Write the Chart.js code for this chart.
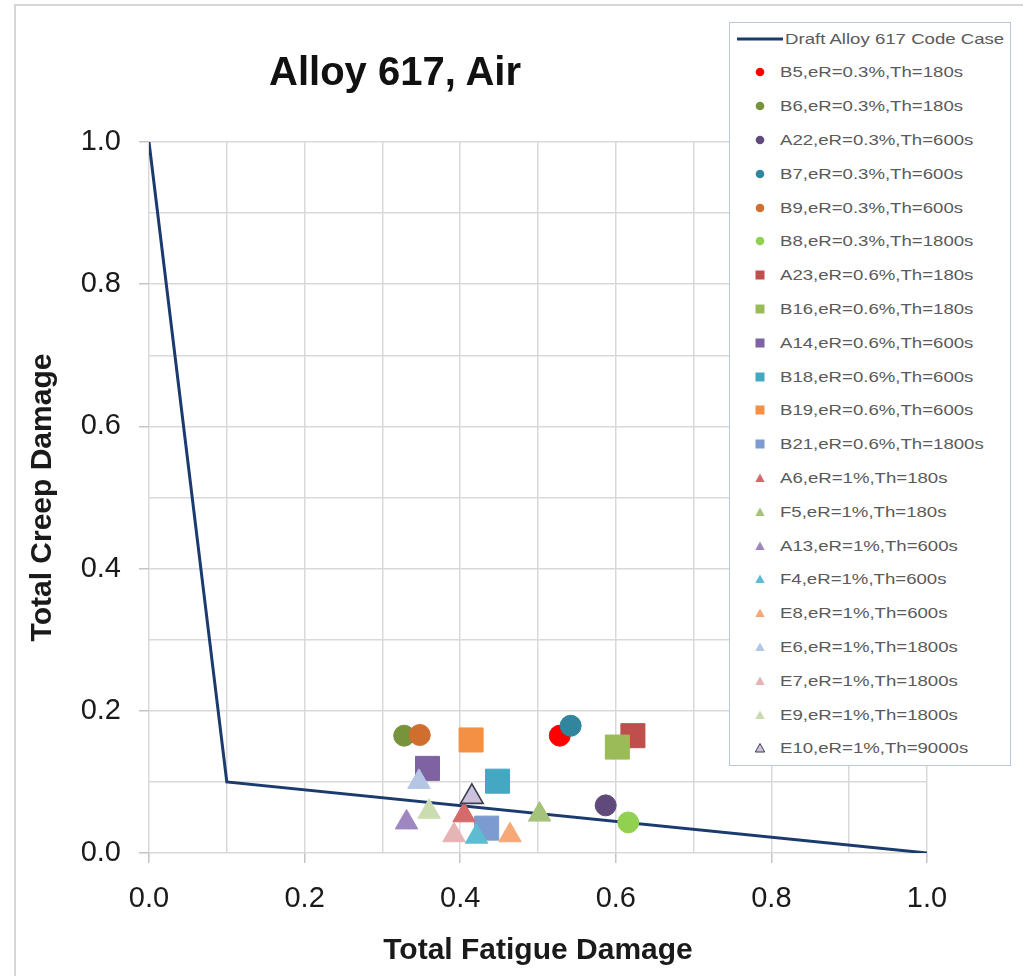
<!DOCTYPE html>
<html>
<head>
<meta charset="utf-8">
<script src="https://cdn.jsdelivr.net/npm/chart.js@4.4.1/dist/chart.umd.min.js"></script>
<style>
html,body{margin:0;padding:0;background:#fff;}
#wrap{position:relative;width:1023px;height:976px;overflow:hidden;font-family:"Liberation Sans",Arial,sans-serif;background:#fff;}
#frame{position:absolute;left:14px;top:4px;width:1200px;height:1200px;border-left:2px solid #d6d6d6;border-top:2px solid #d6d6d6;}
#c{position:absolute;left:0;top:0;}
#title{position:absolute;left:145px;width:500px;top:51px;text-align:center;font-weight:bold;font-size:40px;line-height:40px;color:#111;white-space:nowrap;}
#legend{position:absolute;left:729px;top:22px;width:282px;height:744px;border:1px solid #b9c8e0;background:#fff;box-sizing:border-box;}
.row{position:absolute;left:0;height:20px;width:100%;}
.row svg{position:absolute;left:0;top:0;}
.row span{position:absolute;top:0;line-height:20px;font-size:15px;color:#5a5a5a;transform:scaleX(1.24);transform-origin:0 50%;white-space:nowrap;}
</style>
</head>
<body>
<div id="wrap">
  <div id="frame"></div>
  <canvas id="c" width="1023" height="976"></canvas>
  <div id="title">Alloy 617, Air</div>
  <div id="legend"></div>
</div>
<script>
// ---- data ----
const codeCaseLabel = 'Draft Alloy 617 Code Case';
const codeCaseFatigue = [0.0, 0.1, 1.0];
const codeCaseCreep = [1.0, 0.1, 0.0];

const seriesLabels = [
  'B5,eR=0.3%,Th=180s', 'B6,eR=0.3%,Th=180s', 'A22,eR=0.3%,Th=600s', 'B7,eR=0.3%,Th=600s',
  'B9,eR=0.3%,Th=600s', 'B8,eR=0.3%,Th=1800s', 'A23,eR=0.6%,Th=180s', 'B16,eR=0.6%,Th=180s',
  'A14,eR=0.6%,Th=600s', 'B18,eR=0.6%,Th=600s', 'B19,eR=0.6%,Th=600s', 'B21,eR=0.6%,Th=1800s',
  'A6,eR=1%,Th=180s', 'F5,eR=1%,Th=180s', 'A13,eR=1%,Th=600s', 'F4,eR=1%,Th=600s',
  'E8,eR=1%,Th=600s', 'E6,eR=1%,Th=1800s', 'E7,eR=1%,Th=1800s', 'E9,eR=1%,Th=1800s',
  'E10,eR=1%,Th=9000s'
];
const fatigueDamage = [
  0.528, 0.328, 0.587, 0.542, 0.348, 0.616, 0.622, 0.602, 0.358, 0.448, 0.414, 0.434,
  0.405, 0.502, 0.331, 0.421, 0.464, 0.347, 0.392, 0.360, 0.415
];
const creepDamage = [
  0.165, 0.165, 0.067, 0.179, 0.166, 0.043, 0.165, 0.149, 0.119, 0.101, 0.159, 0.035,
  0.053, 0.054, 0.043, 0.023, 0.025, 0.100, 0.025, 0.058, 0.079
];
const tickLabels = ['0.0', '0.2', '0.4', '0.6', '0.8', '1.0'];

// ---- styles ----
const seriesShapes = [
  'circle','circle','circle','circle','circle','circle',
  'rect','rect','rect','rect','rect','rect',
  'triangle','triangle','triangle','triangle','triangle','triangle','triangle','triangle','triangle'
];
const seriesColors = [
  '#FF0000', '#77933C', '#604A7B', '#31859C', '#CF6E2E', '#92D050',
  '#BE4F4C', '#9BBB59', '#7F62A2', '#44A8C2', '#F39044', '#7B9BD1',
  '#D46A6A', '#A6C37C', '#9E86C1', '#5EBCD2', '#F6A877', '#B5C6E5', '#E6B4B4', '#CBDDB0', '#CDC2DD'
];
const seriesBorders = seriesColors.map((c, i) => i === 20 ? '#3C3C4C' : c);
const shapeRadius = {circle: 10.5, rect: 17, triangle: 13};
const lineColor = '#1B3A6E';

const datasets = [{
  label: codeCaseLabel,
  data: codeCaseFatigue.map((x, i) => ({x: x, y: codeCaseCreep[i]})),
  showLine: true,
  fill: false,
  tension: 0,
  borderColor: lineColor,
  backgroundColor: lineColor,
  borderWidth: 3,
  pointRadius: 0,
  pointHoverRadius: 0,
  order: 200
}];
seriesLabels.forEach((lab, i) => {
  datasets.push({
    label: lab,
    data: [{x: fatigueDamage[i], y: creepDamage[i]}],
    pointStyle: seriesShapes[i],
    pointRadius: shapeRadius[seriesShapes[i]],
    pointHoverRadius: shapeRadius[seriesShapes[i]],
    backgroundColor: seriesColors[i],
    borderColor: seriesBorders[i],
    borderWidth: i === 20 ? 1.6 : 1,
    showLine: false,
    order: 100 - i
  });
});

const isMajor = v => Math.round(v * 10) % 2 === 0;
const labelFor = v => { const k = Math.round(v * 10); return k % 2 === 0 ? tickLabels[k / 2] : ''; };
const FONT = '"Liberation Sans", Arial, sans-serif';

const chart = new Chart(document.getElementById('c'), {
  type: 'scatter',
  data: {datasets: datasets},
  options: {
    responsive: false,
    animation: false,
    layout: {padding: {left: 15, top: 142, right: 96, bottom: 0}},
    plugins: {legend: {display: false}, tooltip: {enabled: false}, title: {display: false}},
    scales: {
      x: {
        type: 'linear', min: 0, max: 1,
        ticks: {stepSize: 0.1, autoSkip: false, maxRotation: 0, padding: 19,
          callback: v => labelFor(v), color: '#1a1a1a', font: {family: FONT, size: 29}},
        grid: {color: '#d9d9d9', lineWidth: 1.5, tickLength: 10,
          tickColor: ctx => (ctx.tick && isMajor(ctx.tick.value)) ? '#c4c4c4' : 'rgba(0,0,0,0)'},
        border: {display: false},
        title: {display: true, text: 'Total Fatigue Damage', color: '#1a1a1a',
          font: {family: FONT, size: 30, weight: 'bold'}, padding: {top: 0, bottom: 7}},
        afterFit: s => { s.height = 123; }
      },
      y: {
        type: 'linear', min: 0, max: 1,
        ticks: {stepSize: 0.1, autoSkip: false, padding: 18,
          callback: v => labelFor(v), color: '#1a1a1a', font: {family: FONT, size: 29}},
        grid: {color: '#d9d9d9', lineWidth: 1.5, tickLength: 10,
          tickColor: ctx => (ctx.tick && isMajor(ctx.tick.value)) ? '#c4c4c4' : 'rgba(0,0,0,0)'},
        border: {display: false},
        title: {display: true, text: 'Total Creep Damage', color: '#1a1a1a',
          font: {family: FONT, size: 30, weight: 'bold'}, padding: {top: 10, bottom: 0}},
        afterFit: s => { s.width = 134; }
      }
    }
  }
});

// ---- HTML legend built from the chart's datasets ----
const legendEl = document.getElementById('legend');
const NS = 'http://www.w3.org/2000/svg';
chart.data.datasets.forEach((ds, i) => {
  const cy = 38.5 + i * 33.8;
  const row = document.createElement('div');
  row.className = 'row';
  row.style.top = (cy - 33) + 'px';
  const svg = document.createElementNS(NS, 'svg');
  svg.setAttribute('width', '60'); svg.setAttribute('height', '20');
  let shape;
  if (i === 0) {
    shape = document.createElementNS(NS, 'line');
    shape.setAttribute('x1', '7'); shape.setAttribute('x2', '53');
    shape.setAttribute('y1', '10'); shape.setAttribute('y2', '10');
    shape.setAttribute('stroke', ds.borderColor); shape.setAttribute('stroke-width', '3');
  } else if (ds.pointStyle === 'circle') {
    shape = document.createElementNS(NS, 'circle');
    shape.setAttribute('cx', '30'); shape.setAttribute('cy', '10'); shape.setAttribute('r', '4.3');
    shape.setAttribute('fill', ds.backgroundColor);
  } else if (ds.pointStyle === 'rect') {
    shape = document.createElementNS(NS, 'rect');
    shape.setAttribute('x', '25.5'); shape.setAttribute('y', '5.5');
    shape.setAttribute('width', '9'); shape.setAttribute('height', '9');
    shape.setAttribute('fill', ds.backgroundColor);
  } else {
    shape = document.createElementNS(NS, 'polygon');
    shape.setAttribute('points', '30,5.5 34.7,14 25.3,14');
    shape.setAttribute('fill', ds.backgroundColor);
    if (ds.borderColor !== ds.backgroundColor) {
      shape.setAttribute('stroke', ds.borderColor); shape.setAttribute('stroke-width', '1');
    }
  }
  svg.appendChild(shape);
  row.appendChild(svg);
  const span = document.createElement('span');
  span.textContent = ds.label;
  span.style.left = (i === 0 ? 55 : 50) + 'px';
  row.appendChild(span);
  legendEl.appendChild(row);
});
</script>
</body>
</html>
